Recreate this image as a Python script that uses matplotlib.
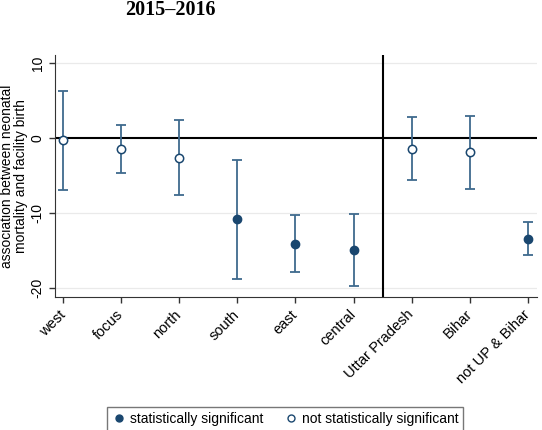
import numpy as np
import matplotlib
matplotlib.use("Agg")
import matplotlib.pyplot as plt
from matplotlib.lines import Line2D

plt.rcParams['font.family'] = ['Liberation Sans', 'DejaVu Sans']

regions = ["west", "focus", "north", "south", "east", "central",
           "Uttar Pradesh", "Bihar", "not UP & Bihar"]
estimate = [-0.3, -1.5, -2.6, -10.8, -14.1, -14.9, -1.5, -1.9, -13.4]
ci_low = [-6.9, -4.7, -7.6, -18.8, -17.8, -19.7, -5.6, -6.8, -15.6]
ci_high = [6.3, 1.7, 2.4, -2.9, -10.2, -10.1, 2.8, 3.0, -11.2]
significant = [False, False, False, True, True, True, False, False, True]

navy = "#1a476f"
bar_col = "#3f6a8e"

fig = plt.figure(figsize=(5.42, 4.3), dpi=100)
ax = fig.add_axes([0.1015, 0.309, 0.8895, 0.563])

x = np.arange(len(regions))
est = np.array(estimate)
lo = np.array(ci_low)
hi = np.array(ci_high)
sig = np.array(significant)

for g in [10, -10, -20]:
    ax.axhline(g, color="#eaeaea", lw=0.9, zorder=0)
ax.axhline(0, color="black", lw=1.5, zorder=1)
ax.axvline(5.5, color="black", lw=1.5, zorder=1)

ax.errorbar(x, est, yerr=[est - lo, hi - est], fmt="none", ecolor=bar_col,
            elinewidth=1.3, capsize=3.5, capthick=1.3, zorder=2)
ax.plot(x[sig], est[sig], "o", color=navy, ms=6, zorder=3)
ax.plot(x[~sig], est[~sig], "o", mfc="white", mec=navy, mew=1.1, ms=6, zorder=3)

ax.set_xlim(-0.14, 8.16)
ax.set_ylim(-21.2, 11.1)
ax.set_yticks([10, 0, -10, -20])
ax.set_yticklabels(["10", "0", "-10", "-20"], rotation=90, va="center", fontsize=10)
ax.set_xticks(x)
ax.set_xticklabels(regions, rotation=45, ha="right", va="center",
                   rotation_mode="anchor", fontsize=10.5)
ax.tick_params(length=4, width=1, color="#333333")
ax.tick_params(axis="x", pad=7)
for s in ["top", "right"]:
    ax.spines[s].set_visible(False)
for s in ["left", "bottom"]:
    ax.spines[s].set_color("#333333")
ax.set_ylabel("association between neonatal\nmortality and facility birth",
              fontsize=10, linespacing=0.95, labelpad=2)

fig.text(0.314, 0.966, "2015\u20132016", fontfamily="Liberation Serif",
         fontweight="bold", fontsize=14.5, ha="center", va="baseline")

handles = [
    Line2D([], [], marker="o", ls="none", color=navy, ms=5),
    Line2D([], [], marker="o", ls="none", mfc="white", mec=navy, mew=1.0, ms=5),
]
fig.legend(handles, ["statistically significant", "not statistically significant"],
           loc="center", bbox_to_anchor=(0.526, 0.025), ncol=2, fontsize=10,
           frameon=True, fancybox=False, edgecolor="#555555", handletextpad=0.3,
           columnspacing=1.5, borderpad=0.35, handlelength=1.0)

fig.savefig("out.png", dpi=100)
